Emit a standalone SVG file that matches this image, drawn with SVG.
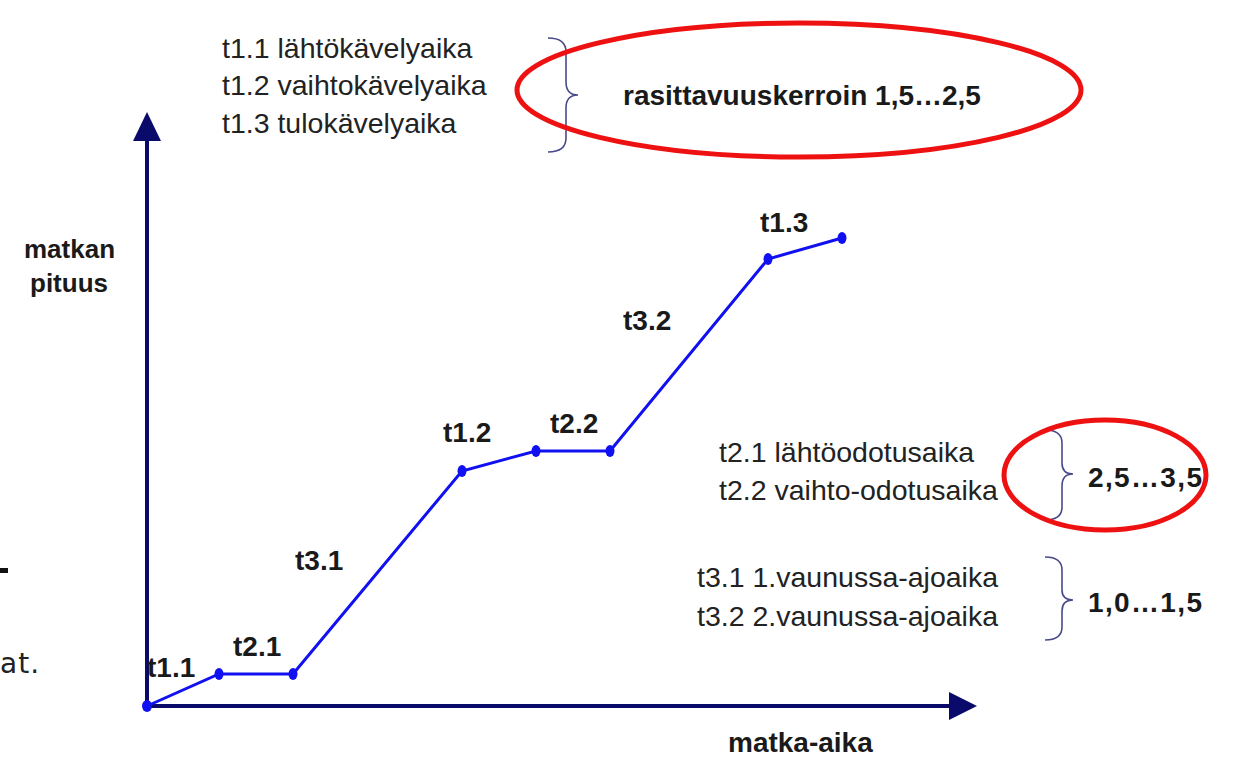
<svg xmlns="http://www.w3.org/2000/svg" width="1243" height="757" viewBox="0 0 1243 757">
<defs>
<style>
.t{font-family:"Liberation Sans",Arial,sans-serif;font-size:28.5px;fill:#222}
.b{font-family:"Liberation Sans",Arial,sans-serif;font-size:28px;font-weight:bold;fill:#1a1a1a}
.axis{stroke:#0a0a6a;stroke-width:4;fill:none}
.seg{stroke:#1010f0;stroke-width:3;fill:none}
.pt{fill:#1010f0}
.brace{stroke:#4a4a8a;stroke-width:1.6;fill:none}
.oval{stroke:#ee1111;stroke-width:5;fill:none}
</style>
</defs>
<rect width="1243" height="757" fill="#fff"/>

<g id="stray">
<rect x="0" y="568" width="8" height="5" fill="#111"/>
<text x="0" y="673" style="font-family:'DejaVu Sans',sans-serif;font-size:28px;fill:#222;letter-spacing:1px">at.</text>
</g>

<g id="axes">
<line class="axis" x1="147" y1="708" x2="147" y2="140"/>
<polygon points="133,141 147,112 161,141" fill="#0a0a6a"/>
<line class="axis" x1="145" y1="706" x2="950" y2="706"/>
<polygon points="949,692 977,706 949,720" fill="#0a0a6a"/>
</g>

<g id="connectors">
<polyline class="seg" points="147,706 219,674 293,674 462,471 536,451 610,451 768,259 842,238"/>
</g>

<g id="points">
<ellipse class="pt" cx="147" cy="706" rx="5" ry="6"/>
<ellipse class="pt" cx="219" cy="674" rx="4.5" ry="6"/>
<ellipse class="pt" cx="293" cy="674" rx="4.5" ry="6"/>
<ellipse class="pt" cx="462" cy="471" rx="4.5" ry="6"/>
<ellipse class="pt" cx="536" cy="451" rx="4.5" ry="6"/>
<ellipse class="pt" cx="610" cy="451" rx="4.5" ry="6"/>
<ellipse class="pt" cx="768" cy="259" rx="4.5" ry="6"/>
<ellipse class="pt" cx="842" cy="238" rx="4.5" ry="6"/>
</g>

<g id="segment-labels">
<text class="b" x="147" y="677">t1.1</text>
<text class="b" x="233" y="656">t2.1</text>
<text class="b" x="295" y="570">t3.1</text>
<text class="b" x="443" y="442">t1.2</text>
<text class="b" x="550" y="433">t2.2</text>
<text class="b" x="623" y="330">t3.2</text>
<text class="b" x="760" y="232">t1.3</text>
</g>

<g id="axis-labels">
<text class="b" x="24" y="258" style="font-size:26px">matkan</text>
<text class="b" x="30" y="292" style="font-size:26px">pituus</text>
<text class="b" x="728" y="752">matka-aika</text>
</g>

<g id="walk-legend">
<text class="t" x="222" y="58">t1.1 lähtökävelyaika</text>
<text class="t" x="222" y="95">t1.2 vaihtokävelyaika</text>
<text class="t" x="222" y="133">t1.3 tulokävelyaika</text>
<path class="brace" d="M548,38 Q566,38 566,52 L566,82 Q566,95 578,95 Q566,95 566,108 L566,138 Q566,152 548,152"/>
<text class="b" x="623" y="105">rasittavuuskerroin 1,5…2,5</text>
<ellipse class="oval" cx="799" cy="90" rx="282" ry="67"/>
</g>

<g id="wait-legend">
<text class="t" x="719" y="462">t2.1 lähtöodotusaika</text>
<text class="t" x="719" y="500">t2.2 vaihto-odotusaika</text>
<path class="brace" d="M1045,430 Q1062,430 1062,443 L1062,463 Q1062,474 1073,474 Q1062,474 1062,486 L1062,507 Q1062,520 1045,520"/>
<text class="b" x="1088" y="487" textLength="114" lengthAdjust="spacing">2,5…3,5</text>
<ellipse class="oval" cx="1105" cy="475" rx="101" ry="55"/>
</g>

<g id="ride-legend">
<text class="t" x="697" y="587">t3.1 1.vaunussa-ajoaika</text>
<text class="t" x="697" y="626">t3.2 2.vaunussa-ajoaika</text>
<path class="brace" d="M1045,557 Q1062,557 1062,570 L1062,590 Q1062,600 1073,600 Q1062,600 1062,611 L1062,627 Q1062,640 1045,640"/>
<text class="b" x="1088" y="612" textLength="114" lengthAdjust="spacing">1,0…1,5</text>
</g>
</svg>
